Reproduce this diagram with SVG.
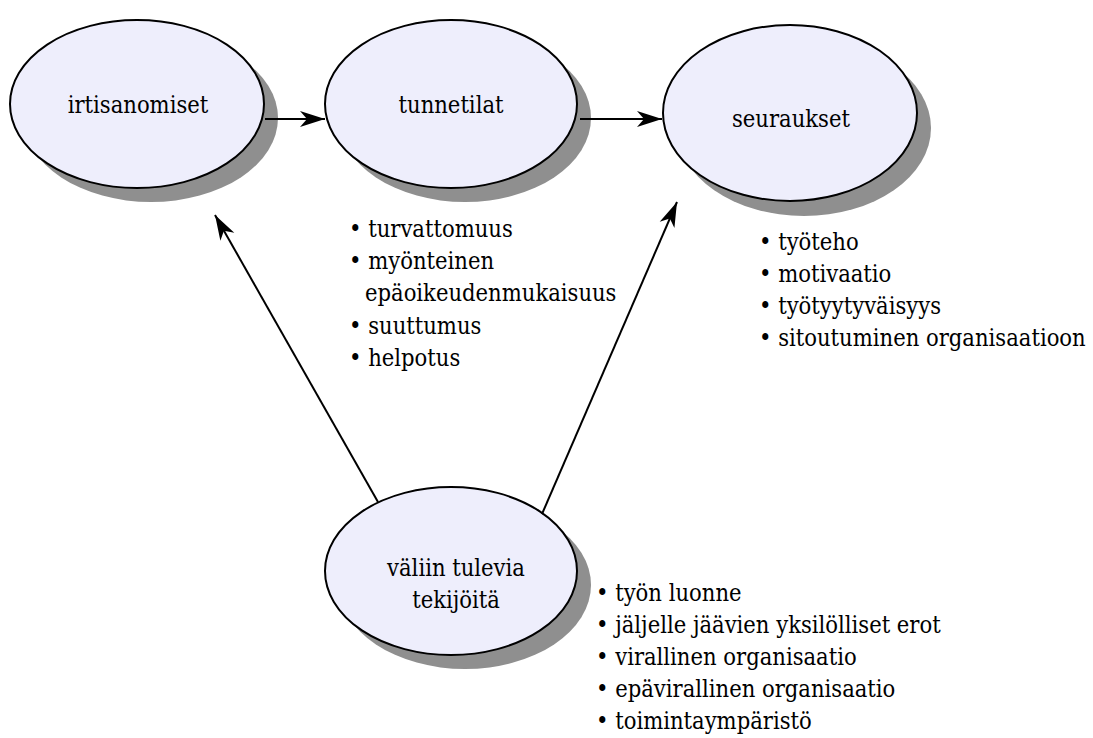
<svg xmlns="http://www.w3.org/2000/svg" width="1093" height="738" viewBox="0 0 1093 738">
  <style>
    .shadow { fill: #8f8f8f; }
    .node { fill: #eeeefc; stroke: #000; stroke-width: 2; }
    text { font-family: "DejaVu Serif Condensed", "DejaVu Serif", serif; font-stretch: condensed; font-size: 23.5px; fill: #000; }
    .mid { text-anchor: middle; }
    .edge { stroke: #000; stroke-width: 2; fill: none; marker-end: url(#arrow); }
  </style>
  <defs>
    <marker id="arrow" markerUnits="userSpaceOnUse" viewBox="-26 -9 27 18" refX="0" refY="0" markerWidth="27" markerHeight="18" orient="auto">
      <path d="M0,0 L-25,-8 L-18,0 L-25,8 Z" fill="#000"/>
    </marker>
  </defs>

  <g id="irtisanomiset">
    <ellipse class="shadow" cx="151" cy="118" rx="127" ry="84"/>
    <ellipse class="node" cx="137" cy="104" rx="127" ry="84"/>
    <text class="mid" x="138" y="113">irtisanomiset</text>
  </g>

  <g id="tunnetilat">
    <ellipse class="shadow" cx="465" cy="118" rx="126" ry="84"/>
    <ellipse class="node" cx="451" cy="104" rx="126" ry="84"/>
    <text class="mid" x="451" y="113">tunnetilat</text>
  </g>

  <g id="seuraukset">
    <ellipse class="shadow" cx="804" cy="128" rx="127" ry="88"/>
    <ellipse class="node" cx="790" cy="113" rx="127" ry="88"/>
    <text class="mid" x="791" y="127">seuraukset</text>
  </g>

  <g id="valiin-tulevia-tekijoita">
    <ellipse class="shadow" cx="465" cy="585" rx="126" ry="84"/>
    <ellipse class="node" cx="451" cy="571" rx="126" ry="84"/>
    <text class="mid" x="456" y="576">väliin tulevia</text>
    <text class="mid" x="456" y="608">tekijöitä</text>
  </g>

  <g id="connectors">
    <line class="edge" x1="265" y1="119" x2="325" y2="119"/>
    <line class="edge" x1="580" y1="119" x2="662" y2="119"/>
    <line class="edge" x1="378" y1="502" x2="215" y2="215"/>
    <line class="edge" x1="542" y1="514" x2="677" y2="202"/>
  </g>

  <g id="tunnetilat-list">
    <text x="349" y="237">• turvattomuus</text>
    <text x="349" y="269">• myönteinen</text>
    <text x="365" y="301">epäoikeudenmukaisuus</text>
    <text x="349" y="334">• suuttumus</text>
    <text x="349" y="366">• helpotus</text>
  </g>

  <g id="seuraukset-list">
    <text x="759" y="250">• työteho</text>
    <text x="759" y="282">• motivaatio</text>
    <text x="759" y="314">• työtyytyväisyys</text>
    <text x="759" y="346">• sitoutuminen organisaatioon</text>
  </g>

  <g id="tekijat-list">
    <text x="596" y="601">• työn luonne</text>
    <text x="596" y="633">• jäljelle jäävien yksilölliset erot</text>
    <text x="596" y="665">• virallinen organisaatio</text>
    <text x="596" y="697">• epävirallinen organisaatio</text>
    <text x="596" y="729">• toimintaympäristö</text>
  </g>
</svg>
